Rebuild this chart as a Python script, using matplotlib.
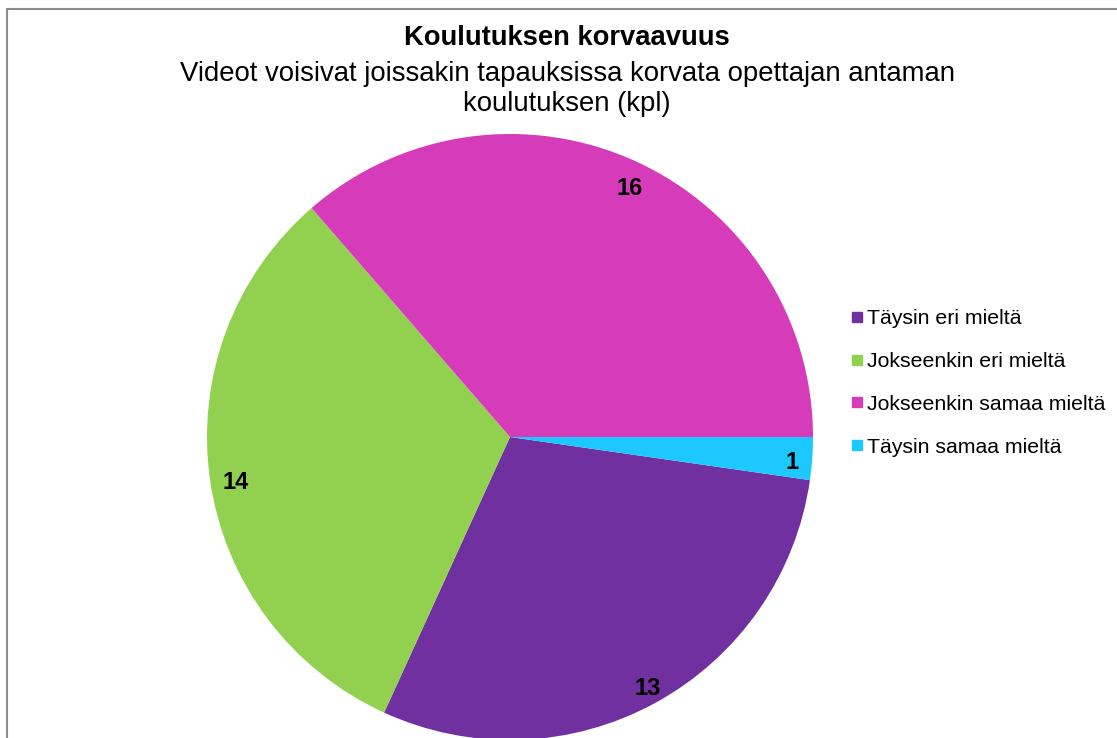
import matplotlib.pyplot as plt
import matplotlib.transforms as mtransforms
from matplotlib.lines import Line2D
from matplotlib.patches import Rectangle

plt.rcParams['font.family'] = ['Liberation Sans', 'DejaVu Sans']

# data
categories = ['Täysin eri mieltä', 'Jokseenkin eri mieltä',
              'Jokseenkin samaa mieltä', 'Täysin samaa mieltä']
counts = [13, 14, 16, 1]
colors = ['#7030A0', '#92D050', '#D63CB9', '#1CC8FF']

title = 'Koulutuksen korvaavuus'
subtitle = 'Videot voisivat joissakin tapauksissa korvata opettajan antaman\nkoulutuksen (kpl)'

W, H = 1117, 738
fig = plt.figure(figsize=(W / 100, H / 100), dpi=100)

# chart area outline (runs off the right/bottom edge)
fig.patches.append(Rectangle((6.5 / W, -0.1), 1.2, (H - 9.5) / H + 0.1,
                             transform=fig.transFigure, fill=False,
                             edgecolor='#8c8c8c', linewidth=1.5))

cx, cy, r = 510, 437, 303
ax = fig.add_axes([(cx - r) / W, (H - cy - r) / H, 2 * r / W, 2 * r / H])

total = sum(counts)
wedges, _, autotexts = ax.pie(
    counts, colors=colors, startangle=-360 * counts[-1] / total,
    counterclock=False, radius=1,
    autopct=lambda p: f'{round(p * total / 100):d}', pctdistance=0.925,
    wedgeprops=dict(linewidth=0),
    textprops=dict(fontsize=17, fontweight='bold', color='black'))
ax.set_xlim(-1, 1)
ax.set_ylim(-1, 1)
ax.set_aspect('auto')
ax.axis('off')

# Excel sits the value labels a little lower
shift = mtransforms.ScaledTranslation(3 / 100, -6 / 100, fig.dpi_scale_trans)
for t in autotexts:
    t.set_transform(t.get_transform() + shift)

fig.text(567 / W, 1 - 38 / H, title, ha='center', va='center',
         fontsize=19.7, fontweight='bold')
fig.text(567 / W, 1 - 89 / H, subtitle, ha='center', va='center',
         fontsize=19.8, linespacing=1.22)

handles = [Line2D([], [], marker='s', linestyle='none', markersize=7.5,
                  markerfacecolor=c, markeredgecolor=c) for c in colors]
fig.legend(handles, categories, loc='center left',
           bbox_to_anchor=(851 / W, 1 - 383 / H), frameon=False,
           fontsize=15.3, labelspacing=1.12, handlelength=0.55,
           handletextpad=0.2, borderpad=0, borderaxespad=0)

fig.savefig('out.png', dpi=100)
